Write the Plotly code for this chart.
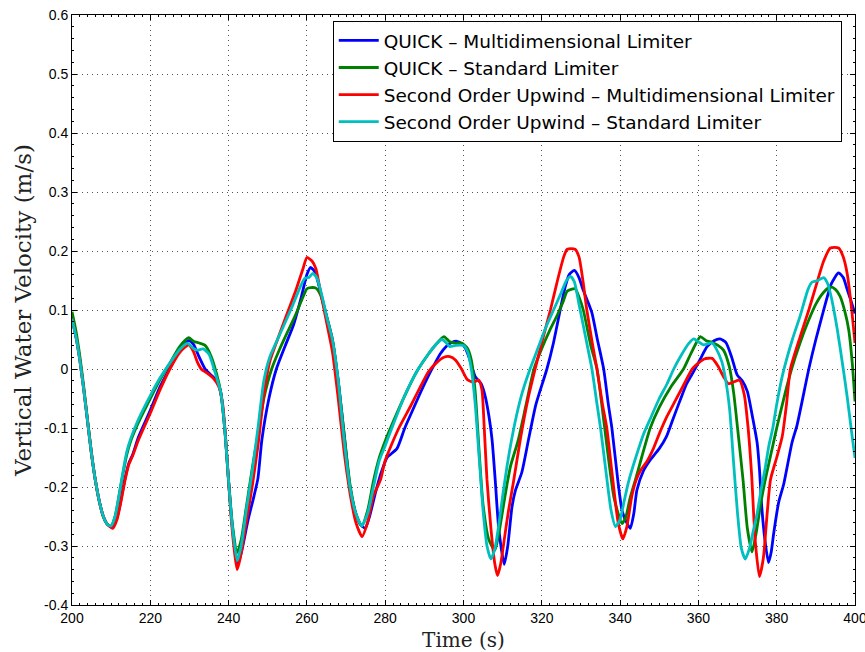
import plotly.graph_objects as go

# ---- data (time s, vertical velocity m/s) ----
quick_multi = [(200, 0.085), (201, 0.055), (202, 0.015), (203, -0.035), (204, -0.09), (205, -0.145),
    (206, -0.19), (207, -0.225), (208, -0.25), (209, -0.263), (210.2, -0.268), (211.5, -0.252),
    (212.5, -0.222), (213.5, -0.187), (214.5, -0.16), (215.5, -0.145), (217, -0.115), (220, -0.07),
    (222.5, -0.03), (225, 0.002), (227.5, 0.033), (229.8, 0.048), (231, 0.042), (232.5, 0.02),
    (234, 0.0), (235.5, -0.01), (237, -0.02), (238, -0.04), (239, -0.1), (240, -0.19), (241, -0.27),
    (242.3, -0.33), (243.3, -0.31), (245, -0.255), (246.5, -0.215), (247.5, -0.185), (248.5, -0.12),
    (250.3, -0.05), (252.2, 0.0), (254.5, 0.04), (256.6, 0.075), (258.5, 0.12), (260, 0.16),
    (260.9, 0.172), (262, 0.165), (263.5, 0.13), (265, 0.09), (266.5, 0.05), (268, -0.02),
    (269.5, -0.11), (271, -0.2), (272.5, -0.245), (273.5, -0.262), (274.9, -0.27), (276, -0.25),
    (277.5, -0.21), (279, -0.175), (280.5, -0.15), (283, -0.135), (285, -0.1), (287, -0.07),
    (289, -0.04), (291, -0.012), (292.5, 0.007), (294, 0.025), (295.7, 0.039), (297, 0.045),
    (298.3, 0.047), (299.5, 0.043), (300.5, 0.035), (301.5, 0.018), (303, -0.013), (304.5, -0.025),
    (305.5, -0.045), (306.5, -0.08), (307.3, -0.12), (308.1, -0.188), (309, -0.27), (310.4, -0.331),
    (311.3, -0.3), (312.4, -0.233), (313.3, -0.205), (314.9, -0.175), (316.6, -0.12), (318.5, -0.06),
    (321.3, 0.0), (323, 0.045), (324.7, 0.1), (326, 0.14), (327, 0.16), (328.3, 0.167), (329.5, 0.155),
    (330.5, 0.135), (331.7, 0.115), (332.8, 0.095), (334.2, 0.05), (335.8, 0.0), (337, -0.06),
    (337.9, -0.1), (339.4, -0.188), (340.5, -0.24), (341.5, -0.258), (342.6, -0.27), (343.5, -0.245),
    (344.3, -0.205), (346, -0.172), (347.7, -0.154), (350, -0.135), (351.8, -0.115), (353.5, -0.085),
    (355.5, -0.05), (357, -0.025), (358.8, -0.004), (360.5, 0.017), (362.2, 0.038), (364, 0.048),
    (365.5, 0.051), (367, 0.045), (368.5, 0.02), (369.9, -0.01), (371.2, -0.02), (372.5, -0.038),
    (373.7, -0.077), (375, -0.125), (375.6, -0.17), (376.2, -0.235), (377, -0.29), (377.9, -0.328),
    (378.6, -0.31), (379.2, -0.28), (380.5, -0.226), (381.8, -0.195), (383.9, -0.125), (385.2, -0.095),
    (388.2, 0.0), (390, 0.05), (392, 0.1), (394, 0.145), (395.8, 0.163), (397, 0.155), (398, 0.135),
    (399, 0.115), (400, 0.094)]

quick_std = [(200, 0.097), (201, 0.065), (202, 0.022), (203, -0.03), (204, -0.088), (205, -0.143),
    (206, -0.19), (207, -0.225), (208, -0.25), (209, -0.263), (210, -0.266), (211, -0.25), (212, -0.215),
    (213, -0.178), (214, -0.145), (215, -0.122), (217, -0.09), (220, -0.05), (222.5, -0.018), (225, 0.01),
    (227.5, 0.038), (229.8, 0.053), (231, 0.047), (232.5, 0.044), (234, 0.04), (235.5, 0.022),
    (237, -0.01), (238, -0.04), (239, -0.1), (240, -0.19), (241, -0.265), (242.2, -0.311), (243.2, -0.29),
    (244.5, -0.235), (246, -0.17), (247.5, -0.11), (249, -0.05), (251, 0.0), (253, 0.033), (255, 0.062),
    (257, 0.09), (259, 0.122), (260, 0.136), (261, 0.138), (262.3, 0.137), (263.5, 0.125), (265, 0.09),
    (266.5, 0.05), (268, -0.02), (269.5, -0.11), (271, -0.195), (272.5, -0.245), (274, -0.266),
    (275.5, -0.24), (277, -0.19), (278.5, -0.15), (280, -0.122), (282, -0.09), (285, -0.045),
    (288, -0.005), (291, 0.025), (293, 0.042), (295, 0.055), (296.5, 0.046), (298, 0.044), (299.5, 0.044),
    (301, 0.035), (302, 0.015), (303, -0.04), (304, -0.14), (305, -0.23), (306.5, -0.29), (308, -0.307),
    (309, -0.28), (310, -0.24), (311, -0.2), (312, -0.165), (314, -0.12), (316, -0.06), (318, 0.0),
    (320, 0.035), (322, 0.065), (324, 0.092), (325.5, 0.115), (326.5, 0.132), (328.5, 0.136),
    (329.5, 0.122), (330.6, 0.1), (332.5, 0.04), (334.1, 0.0), (335.5, -0.07), (337, -0.15),
    (338.5, -0.22), (340.5, -0.262), (341.5, -0.25), (342.5, -0.22), (343.9, -0.188), (345.5, -0.15),
    (347.7, -0.1), (350, -0.065), (353, -0.03), (356.2, 0.0), (358, 0.025), (359.5, 0.045),
    (360.5, 0.055), (362, 0.048), (363.5, 0.045), (365, 0.04), (366.4, 0.032), (367.9, 0.004),
    (369, -0.04), (370, -0.1), (371.4, -0.188), (372.5, -0.27), (373.7, -0.31), (374.7, -0.28),
    (376, -0.225), (377, -0.19), (378, -0.16), (379, -0.13), (380, -0.1), (382, -0.045), (383.8, 0.0),
    (386, 0.045), (388, 0.08), (390, 0.11), (392, 0.13), (393.7, 0.139), (395, 0.135), (396.2, 0.123),
    (397.5, 0.095), (398.4, 0.066), (399.3, 0.01), (400, -0.055)]

sou_multi = [(200, 0.085), (201, 0.055), (202, 0.015), (203, -0.035), (204, -0.09), (205, -0.145),
    (206, -0.19), (207, -0.225), (208, -0.25), (209, -0.263), (210.4, -0.27), (211.5, -0.255),
    (212.5, -0.225), (213.5, -0.19), (214.5, -0.162), (215.5, -0.147), (217, -0.12), (220, -0.075),
    (222.5, -0.035), (225, 0.0), (227.5, 0.028), (229.8, 0.041), (231, 0.03), (232, 0.012), (233, 0.0),
    (234.5, -0.007), (236, -0.015), (237.5, -0.03), (238.5, -0.06), (239.5, -0.14), (240.5, -0.24),
    (241.5, -0.31), (242.2, -0.34), (243, -0.32), (244.5, -0.26), (246, -0.2), (247.5, -0.13),
    (249, -0.045), (250.5, 0.012), (252.5, 0.05), (255, 0.095), (257, 0.13), (259, 0.17), (260, 0.189),
    (261.3, 0.183), (262.3, 0.17), (263.5, 0.13), (265, 0.08), (266.5, 0.03), (268, -0.05),
    (269.5, -0.14), (271, -0.21), (272.5, -0.26), (274.1, -0.284), (275.5, -0.26), (277, -0.215),
    (278.8, -0.188), (280, -0.155), (281.5, -0.13), (283.5, -0.1), (286.4, -0.064), (289, -0.03),
    (291, -0.005), (293, 0.01), (295, 0.02), (296.5, 0.021), (298, 0.015), (299.5, 0.0), (301, -0.018),
    (302.5, -0.022), (303.9, -0.019), (304.7, -0.035), (305.3, -0.1), (306, -0.188), (307, -0.27),
    (308, -0.33), (308.7, -0.35), (309.5, -0.33), (310.5, -0.285), (311.5, -0.24), (312.8, -0.19),
    (314.5, -0.12), (316.5, -0.05), (318.3, 0.0), (320, 0.045), (322.2, 0.1), (324, 0.15), (325.6, 0.19),
    (326.5, 0.203), (328.5, 0.203), (329.5, 0.19), (330.5, 0.15), (331.5, 0.1), (333, 0.04), (334.1, 0.0),
    (335.5, -0.06), (336.6, -0.1), (338, -0.18), (339.5, -0.26), (340.7, -0.288), (341.7, -0.268),
    (343, -0.215), (344, -0.19), (345.2, -0.172), (347, -0.155), (348.5, -0.135), (350, -0.11),
    (352, -0.08), (354, -0.055), (356, -0.03), (358.4, 0.0), (360, 0.01), (361.5, 0.017), (363.5, 0.018),
    (365, 0.005), (366.4, -0.013), (367.7, -0.025), (369, -0.022), (370.5, -0.019), (371.7, -0.043),
    (372.7, -0.1), (373.6, -0.18), (374.5, -0.29), (375.6, -0.352), (376.6, -0.32), (377.5, -0.25),
    (378.4, -0.188), (380, -0.15), (381.4, -0.115), (382.5, -0.06), (383.5, 0.0), (386, 0.055),
    (388.2, 0.1), (390, 0.14), (392, 0.183), (393.7, 0.205), (395.8, 0.205), (397, 0.19), (398, 0.162),
    (399, 0.11), (400, 0.044)]

sou_std = [(200, 0.085), (201, 0.055), (202, 0.015), (203, -0.035), (204, -0.09), (205, -0.145),
    (206, -0.19), (207, -0.225), (208, -0.25), (209, -0.263), (210, -0.266), (211, -0.25), (212, -0.215),
    (213, -0.175), (214, -0.14), (215, -0.118), (217, -0.085), (220, -0.045), (222.5, -0.015),
    (225, 0.01), (227.5, 0.033), (229.5, 0.044), (231, 0.035), (232, 0.032), (233.5, 0.034),
    (235, 0.025), (236.5, -0.005), (238, -0.04), (239, -0.1), (240, -0.19), (241, -0.27), (242.2, -0.325),
    (243.2, -0.3), (244.5, -0.24), (246, -0.175), (247.5, -0.1), (249, -0.02), (250.5, 0.02),
    (252, 0.043), (254, 0.072), (256.5, 0.11), (258.5, 0.142), (259.5, 0.154), (260.5, 0.155),
    (261.5, 0.162), (262.5, 0.155), (264, 0.12), (265, 0.09), (266.5, 0.05), (268, -0.02),
    (269.5, -0.12), (271, -0.2), (272.5, -0.245), (274, -0.266), (275.5, -0.245), (277, -0.2),
    (278.5, -0.155), (280, -0.13), (282, -0.095), (285, -0.045), (288, -0.005), (291, 0.025),
    (293, 0.042), (294.5, 0.05), (295.5, 0.045), (296.5, 0.038), (298, 0.04), (300, 0.04), (301, 0.03),
    (302, 0.0), (303, -0.06), (304, -0.15), (305, -0.24), (306, -0.3), (307, -0.322), (308, -0.305),
    (309, -0.265), (310, -0.215), (311, -0.17), (312, -0.13), (313.5, -0.08), (315, -0.04), (317, 0.0),
    (319, 0.035), (321, 0.07), (323, 0.1), (325, 0.13), (326.3, 0.15), (327.3, 0.157), (328.3, 0.148),
    (329.5, 0.11), (331, 0.06), (332.8, 0.0), (334, -0.055), (335, -0.1), (336.5, -0.18), (337.7, -0.24),
    (338.8, -0.267), (340, -0.255), (341, -0.225), (342.2, -0.19), (344, -0.15), (346, -0.11),
    (348, -0.08), (350, -0.05), (352, -0.025), (353.7, 0.0), (355.5, 0.022), (357.5, 0.043),
    (358.8, 0.051), (360, 0.046), (361.3, 0.041), (362.5, 0.043), (363.5, 0.044), (364.5, 0.035),
    (366, 0.012), (367, -0.02), (368, -0.07), (369, -0.16), (370, -0.245), (371, -0.305), (372, -0.322),
    (373, -0.305), (374, -0.275), (375, -0.245), (376, -0.205), (377, -0.17), (378, -0.13), (379, -0.1),
    (380, -0.06), (381.5, -0.01), (384, 0.05), (386, 0.09), (388, 0.135), (389, 0.147), (390.5, 0.15),
    (392, 0.155), (393, 0.145), (394, 0.12), (395.5, 0.066), (397, 0.0), (398, -0.047), (399, -0.1),
    (400, -0.151)]

series_names = ["QUICK \u2013 Multidimensional Limiter", "QUICK \u2013 Standard Limiter",
                "Second Order Upwind \u2013 Multidimensional Limiter",
                "Second Order Upwind \u2013 Standard Limiter"]
series_data = [quick_multi, quick_std, sou_multi, sou_std]
series_colors = ["#0000FF", "#008000", "#FF0000", "#00BFBF"]

x_ticks = [200, 220, 240, 260, 280, 300, 320, 340, 360, 380, 400]
y_ticks = [-0.4, -0.3, -0.2, -0.1, 0, 0.1, 0.2, 0.3, 0.4, 0.5, 0.6]
y_tick_text = ["-0.4", "-0.3", "-0.2", "-0.1", "0", "0.1", "0.2", "0.3", "0.4", "0.5", "0.6"]

fig = go.Figure()
for name, data, color in zip(series_names, series_data, series_colors):
    fig.add_trace(go.Scatter(
        x=[p[0] for p in data], y=[p[1] for p in data], mode="lines", name=name,
        line=dict(color=color, width=2.8, shape="spline", smoothing=0.6)))

axis_common = dict(showline=True, linecolor="black", linewidth=1, mirror="ticks",
                   ticks="inside", ticklen=5, tickcolor="black",
                   showgrid=True, gridcolor="#555555", griddash="1px,4px", gridwidth=1,
                   zeroline=False, ticklabeloverflow="allow", automargin=False,
                   tickfont=dict(family="Liberation Sans, Arial", size=14, color="black"),
                   minor=dict(ticks="inside", ticklen=2, tickcolor="black", showgrid=False))

fig.update_xaxes(range=[200, 400], tickvals=x_ticks, **axis_common,
                 title=dict(text="Time (s)", font=dict(family="DejaVu Serif", size=20, color="#222"),
                            standoff=8))
fig.update_yaxes(range=[-0.4, 0.6], tickvals=y_ticks, ticktext=y_tick_text, **axis_common,
                 title=dict(text="Vertical Water Velocity (m/s)",
                            font=dict(family="DejaVu Serif", size=23, color="#222"), standoff=6))
fig.update_xaxes(minor_dtick=2)
fig.update_yaxes(minor_dtick=0.02)

fig.update_layout(
    width=865, height=652, margin=dict(l=72, r=10, t=15, b=47),
    paper_bgcolor="white", plot_bgcolor="white",
    font=dict(family="Liberation Sans, Arial", color="black"),
    legend=dict(x=0.333, y=0.99, xanchor="left", yanchor="top",
                bgcolor="white", bordercolor="black", borderwidth=1,
                font=dict(family="DejaVu Sans", size=18.5, color="black"),
                tracegroupgap=0, itemwidth=40),
)

fig.write_html("out.html")
